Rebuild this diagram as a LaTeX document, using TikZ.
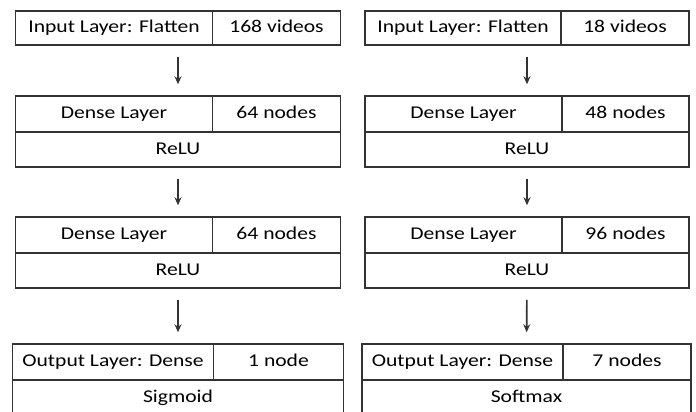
\documentclass[tikz,border=0pt]{standalone}
\usepackage{fontspec}
\setmainfont{Carlito}[FakeStretch=1.2]
\usetikzlibrary{arrows.meta, positioning}
\definecolor{linegray}{HTML}{333333}

\tikzset{
  layerbox/.style={rectangle, draw=linegray, line width=1.5pt, inner sep=0pt},
  cell/.style={rectangle, line width=1.5pt, inner sep=0pt, font=\fontsize{18}{22}\selectfont, text height=0.95em, text depth=0pt},
  flow/.style={draw=linegray, line width=1.6pt, -{Stealth[length=8pt, width=7pt]}, shorten <=11pt, shorten >=11pt}
}

\begin{document}
\begin{tikzpicture}[x=1pt, y=-1pt]
\useasboundingbox (0,0) rectangle (696,412);
\clip (0,0) rectangle (696,412);

% Left network: 168 videos in, sigmoid out
\node[layerbox, minimum width=325pt, minimum height=34pt] (inL) at (178,28) {};
\node[cell, draw=linegray, minimum width=197pt, minimum height=34pt, anchor=north west] (inLname) at (inL.north west) {Input Layer: Flatten};
\node[cell, minimum width=128pt, minimum height=34pt, anchor=north east] (inLsize) at (inL.north east) {168 videos};

\node[layerbox, minimum width=325pt, minimum height=71pt] (d1L) at (178,131.5) {};
\node[cell, draw=linegray, minimum width=197pt, minimum height=36pt, anchor=north west] (d1Lname) at (d1L.north west) {Dense Layer};
\node[cell, minimum width=128pt, minimum height=36pt, anchor=north east] (d1Lsize) at (d1L.north east) {64 nodes};
\node[cell, draw=linegray, minimum width=325pt, minimum height=35pt, anchor=south] (d1Lact) at (d1L.south) {ReLU};

\node[layerbox, minimum width=325pt, minimum height=71pt] (d2L) at (178,252.5) {};
\node[cell, draw=linegray, minimum width=197pt, minimum height=36pt, anchor=north west] (d2Lname) at (d2L.north west) {Dense Layer};
\node[cell, minimum width=128pt, minimum height=36pt, anchor=north east] (d2Lsize) at (d2L.north east) {64 nodes};
\node[cell, draw=linegray, minimum width=325pt, minimum height=35pt, anchor=south] (d2Lact) at (d2L.south) {ReLU};

\node[layerbox, minimum width=331pt, minimum height=72pt] (outL) at (178,380) {};
\node[cell, draw=linegray, minimum width=201pt, minimum height=36pt, anchor=north west] (outLname) at (outL.north west) {Output Layer: Dense};
\node[cell, minimum width=130pt, minimum height=36pt, anchor=north east] (outLsize) at (outL.north east) {1 node};
\node[cell, draw=linegray, minimum width=331pt, minimum height=36pt, anchor=south] (outLact) at (outL.south) {Sigmoid};

\draw[flow] (inL) -- (d1L);
\draw[flow] (d1L) -- (d2L);
\draw[flow] (d2L) -- (outL);

% Right network: 18 videos in, softmax out
\node[layerbox, minimum width=324pt, minimum height=34pt] (inR) at (527,28) {};
\node[cell, draw=linegray, minimum width=196pt, minimum height=34pt, anchor=north west] (inRname) at (inR.north west) {Input Layer: Flatten};
\node[cell, minimum width=128pt, minimum height=34pt, anchor=north east] (inRsize) at (inR.north east) {18 videos};

\node[layerbox, minimum width=324pt, minimum height=71pt] (d1R) at (527,131.5) {};
\node[cell, draw=linegray, minimum width=197pt, minimum height=36pt, anchor=north west] (d1Rname) at (d1R.north west) {Dense Layer};
\node[cell, minimum width=127pt, minimum height=36pt, anchor=north east] (d1Rsize) at (d1R.north east) {48 nodes};
\node[cell, draw=linegray, minimum width=324pt, minimum height=35pt, anchor=south] (d1Ract) at (d1R.south) {ReLU};

\node[layerbox, minimum width=324pt, minimum height=71pt] (d2R) at (527,252.5) {};
\node[cell, draw=linegray, minimum width=197pt, minimum height=36pt, anchor=north west] (d2Rname) at (d2R.north west) {Dense Layer};
\node[cell, minimum width=127pt, minimum height=36pt, anchor=north east] (d2Rsize) at (d2R.north east) {96 nodes};
\node[cell, draw=linegray, minimum width=324pt, minimum height=35pt, anchor=south] (d2Ract) at (d2R.south) {ReLU};

\node[layerbox, minimum width=329pt, minimum height=72pt] (outR) at (526.5,380) {};
\node[cell, draw=linegray, minimum width=201pt, minimum height=36pt, anchor=north west] (outRname) at (outR.north west) {Output Layer: Dense};
\node[cell, minimum width=128pt, minimum height=36pt, anchor=north east] (outRsize) at (outR.north east) {7 nodes};
\node[cell, draw=linegray, minimum width=329pt, minimum height=36pt, anchor=south] (outRact) at (outR.south) {Softmax};

\draw[flow] (inR) -- (d1R);
\draw[flow] (d1R) -- (d2R);
\draw[flow] (d2R) -- (outR);
\end{tikzpicture}
\end{document}
